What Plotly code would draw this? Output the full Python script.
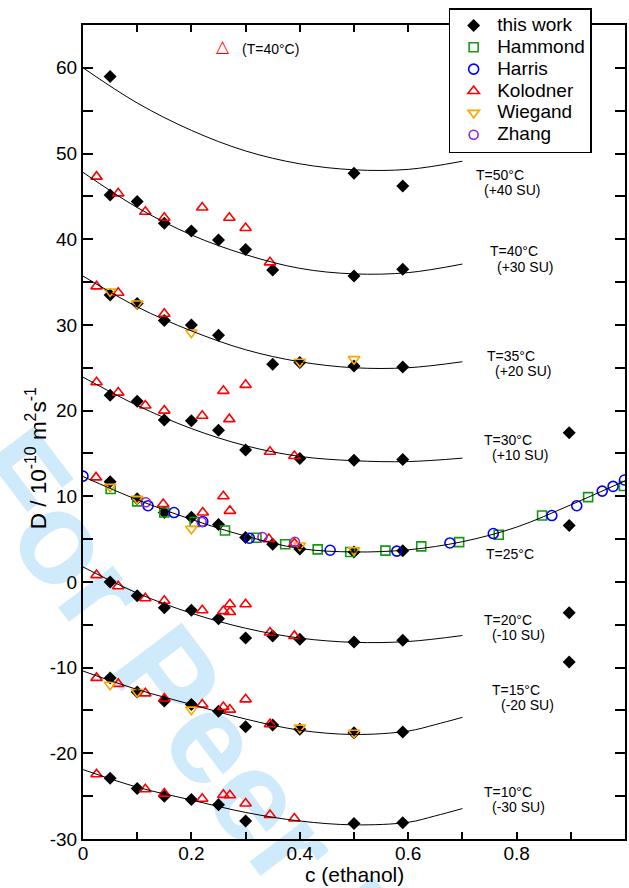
import plotly.graph_objects as go

# ---------------- data ----------------
# "this work" (black diamonds), per temperature, shifted by SU offsets as in the plot
work_50_c = [0.05, 0.50, 0.59]
work_50_D = [59.0, 47.7, 46.2]
work_40_c = [0.05, 0.10, 0.15, 0.20, 0.25, 0.30, 0.35, 0.50, 0.59]
work_40_D = [45.15, 44.4, 41.85, 40.95, 39.9, 38.8, 36.4, 35.7, 36.5]
work_35_c = [0.05, 0.10, 0.15, 0.20, 0.25, 0.35, 0.40, 0.50, 0.59]
work_35_D = [33.5, 32.5, 30.5, 30.0, 28.8, 25.4, 25.6, 25.2, 25.1]
work_30_c = [0.05, 0.10, 0.15, 0.20, 0.25, 0.30, 0.40, 0.50, 0.59]
work_30_D = [21.8, 21.1, 18.9, 18.8, 17.7, 15.4, 14.4, 14.2, 14.3]
work_25_c = [0.05, 0.10, 0.15, 0.20, 0.25, 0.30, 0.35, 0.40, 0.50, 0.59]
work_25_D = [11.7, 9.7, 8.1, 7.55, 6.7, 5.2, 4.4, 3.85, 3.5, 3.65]
work_20_c = [0.05, 0.10, 0.15, 0.20, 0.25, 0.30, 0.35, 0.40, 0.50, 0.59]
work_20_D = [0.0, -1.6, -3.0, -3.3, -4.3, -6.55, -6.3, -6.7, -7.0, -6.8]
work_15_c = [0.05, 0.10, 0.15, 0.20, 0.25, 0.30, 0.35, 0.40, 0.50, 0.59]
work_15_D = [-11.2, -12.85, -13.9, -14.3, -15.1, -16.9, -16.7, -17.2, -17.6, -17.5]
work_10_c = [0.05, 0.10, 0.15, 0.20, 0.25, 0.30, 0.50, 0.59]
work_10_D = [-22.9, -24.1, -25.0, -25.4, -26.0, -27.9, -28.2, -28.1]
work_09_c = [0.897, 0.897, 0.897, 0.897]
work_09_D = [17.4, 6.6, -3.6, -9.35]

hammond_c = [0.051, 0.10, 0.15, 0.206, 0.262, 0.32, 0.373, 0.433, 0.493, 0.558,
             0.624, 0.694, 0.767, 0.847, 0.932, 0.998]
hammond_D = [10.85, 9.4, 8.1, 7.0, 6.0, 5.15, 4.4, 3.8, 3.5, 3.65,
             4.15, 4.65, 5.5, 7.75, 9.9, 11.2]

harris_c = [0.0, 0.12, 0.168, 0.221, 0.307, 0.456, 0.579, 0.677, 0.757, 0.865,
            0.911, 0.958, 0.978, 0.999]
harris_D = [12.35, 8.9, 8.1, 7.05, 5.1, 3.7, 3.6, 4.55, 5.65, 7.75,
            8.9, 10.6, 11.15, 11.9]

kol_40_c = [0.025, 0.065, 0.115, 0.15, 0.22, 0.27, 0.30, 0.345]
kol_40_D = [47.3, 45.35, 43.2, 42.5, 43.7, 42.5, 41.3, 37.3]
kol_35_c = [0.025, 0.065, 0.15]
kol_35_D = [34.5, 33.75, 31.3]
kol_30_c = [0.025, 0.065, 0.115, 0.15, 0.22, 0.259, 0.27, 0.30, 0.345, 0.39]
kol_30_D = [23.3, 22.1, 20.6, 20.0, 19.4, 22.3, 19.0, 23.0, 15.2, 14.7]
kol_25_c = [0.024, 0.148, 0.221, 0.259, 0.271, 0.343, 0.39]
kol_25_D = [12.2, 9.1, 8.1, 10.0, 8.3, 5.0, 4.5]
kol_20_c = [0.025, 0.065, 0.115, 0.15, 0.22, 0.259, 0.271, 0.271, 0.30, 0.345, 0.39]
kol_20_D = [0.8, -0.5, -1.9, -2.2, -3.3, -3.4, -2.6, -3.5, -2.6, -5.9, -6.3]
kol_15_c = [0.025, 0.065, 0.115, 0.15, 0.22, 0.259, 0.271, 0.30, 0.345]
kol_15_D = [-11.2, -11.9, -13.0, -13.6, -14.3, -14.6, -14.9, -13.7, -16.6]
kol_10_c = [0.025, 0.115, 0.15, 0.22, 0.259, 0.271, 0.30, 0.345, 0.39]
kol_10_D = [-22.45, -24.2, -24.7, -25.3, -24.85, -24.9, -25.85, -27.2, -27.6]

wie_35_c = [0.05, 0.10, 0.20, 0.40, 0.50]
wie_35_D = [33.9, 32.5, 29.1, 25.7, 26.0]
wie_25_c = [0.05, 0.10, 0.20, 0.40, 0.50]
wie_25_D = [11.1, 9.7, 6.2, 4.25, 3.7]
wie_15_c = [0.05, 0.10, 0.20, 0.40, 0.50]
wie_15_D = [-12.0, -12.85, -14.9, -17.0, -17.6]

zhang_c = [0.116, 0.219, 0.331, 0.391]
zhang_D = [9.3, 7.0, 5.25, 4.7]

# fitted curves
fit_c = [0.0, 0.1, 0.2, 0.3, 0.4, 0.5, 0.6, 0.7]
fit_c_ext = [0.0, 0.1, 0.2, 0.3, 0.4, 0.5, 0.6, 0.65, 0.7]
fit_c_25 = [0.0, 0.1, 0.2, 0.3, 0.4, 0.5, 0.6, 0.7, 0.8, 0.9, 1.0]
fit_50 = [60.0, 55.9, 52.7, 50.3, 48.8, 48.1, 48.15, 49.1]
fit_40 = [47.8, 43.7, 40.5, 38.2, 36.6, 35.95, 36.1, 37.1]
fit_35 = [35.7, 32.1, 29.3, 27.1, 25.7, 25.0, 25.0, 25.7]
fit_30 = [23.9, 20.6, 17.9, 15.9, 14.65, 14.15, 14.05, 14.45]
fit_25 = [12.3, 9.6, 7.3, 5.35, 3.9, 3.5, 3.75, 4.7, 6.4, 9.0, 11.8]
fit_20 = [1.75, -1.3, -3.65, -5.4, -6.55, -7.05, -6.95, -6.25]
fit_15 = [-10.4, -12.55, -14.3, -16.0, -17.3, -17.8, -17.4, -16.65, -15.8]
fit_10 = [-21.9, -23.95, -25.45, -26.9, -27.9, -28.35, -28.05, -27.3, -26.45]

x_tickvals = [0, 0.2, 0.4, 0.6, 0.8]
x_ticktext = ["0", "0.2", "0.4", "0.6", "0.8"]
x_minor = [0.1, 0.3, 0.5, 0.7, 0.9]
y_tickvals = [-30, -20, -10, 0, 10, 20, 30, 40, 50, 60]
y_ticktext = ["-30", "-20", "-10", "0", "10", "20", "30", "40", "50", "60"]
y_minor = [-25, -15, -5, 5, 15, 25, 35, 45, 55]

curve_labels = [  # (text, left px, center y px)
    ("T=50°C", 475, 175), ("(+40 SU)", 483, 190),
    ("T=40°C", 489, 251), ("(+30 SU)", 497, 267),
    ("T=35°C", 486, 356), ("(+20 SU)", 495, 371),
    ("T=30°C", 483, 440), ("(+10 SU)", 491, 455.5),
    ("T=25°C", 485, 554),
    ("T=20°C", 483, 620), ("(-10 SU)", 491, 635),
    ("T=15°C", 492, 690), ("(-20 SU)", 501, 705),
    ("T=10°C", 483, 792), ("(-30 SU)", 492, 807),
]

# ---------------- layout geometry ----------------
W, H = 629, 888
L, R, T, B = 83, 2, 25, 49
PW, PH = W - L - R, H - T - B


def paper(xp, yp):
    return (xp - L) / PW, 1 - (yp - T) / PH


FONT = "Liberation Sans, Arial, Helvetica, sans-serif"
GREEN = "#129a12"
BLUE = "#0000ff"
RED = "#ff0000"
ORANGE = "#ffa500"
PURPLE = "#9b1fd6"

work_c = work_50_c + work_40_c + work_35_c + work_30_c + work_25_c + work_20_c + work_15_c + work_10_c + work_09_c
work_D = work_50_D + work_40_D + work_35_D + work_30_D + work_25_D + work_20_D + work_15_D + work_10_D + work_09_D
kol_c = kol_40_c + kol_35_c + kol_30_c + kol_25_c + kol_20_c + kol_15_c + kol_10_c
kol_D = kol_40_D + kol_35_D + kol_30_D + kol_25_D + kol_20_D + kol_15_D + kol_10_D
wie_c = wie_35_c + wie_25_c + wie_15_c
wie_D = wie_35_D + wie_25_D + wie_15_D


def lname(s):
    return '<span style="font-size:19px">' + s + '</span>'


fig = go.Figure()
fig.add_trace(go.Scatter(x=work_c, y=work_D, mode="markers", name=lname("this work"),
                         marker=dict(symbol="diamond", size=10, color="black")))
fig.add_trace(go.Scatter(x=hammond_c, y=hammond_D, mode="markers", name=lname("Hammond"),
                         marker=dict(symbol="square-open", size=9, color=GREEN, line=dict(width=1.6))))
fig.add_trace(go.Scatter(x=harris_c, y=harris_D, mode="markers", name=lname("Harris"),
                         marker=dict(symbol="circle-open", size=10, color=BLUE, line=dict(width=1.6))))
fig.add_trace(go.Scatter(x=kol_c, y=kol_D, mode="markers", name=lname("Kolodner"),
                         marker=dict(symbol="triangle-up-open", size=10, color=RED, line=dict(width=1.6))))
fig.add_trace(go.Scatter(x=wie_c, y=wie_D, mode="markers", name=lname("Wiegand"),
                         marker=dict(symbol="triangle-down-open", size=10, color=ORANGE, line=dict(width=1.6))))
fig.add_trace(go.Scatter(x=zhang_c, y=zhang_D, mode="markers", name=lname("Zhang"),
                         marker=dict(symbol="circle-open", size=9, color=PURPLE, line=dict(width=1.6))))

for cx, cy in [(fit_c, fit_50), (fit_c, fit_40), (fit_c, fit_35), (fit_c, fit_30),
               (fit_c_25, fit_25), (fit_c, fit_20), (fit_c_ext, fit_15), (fit_c_ext, fit_10)]:
    fig.add_trace(go.Scatter(x=cx, y=cy, mode="lines", showlegend=False, hoverinfo="skip",
                             line=dict(color="black", width=1, shape="spline", smoothing=1.0)))

annotations = []
for text, xl, yc in curve_labels:
    ax, ay = paper(xl, yc)
    annotations.append(dict(text=text, x=ax, y=ay, xref="paper", yref="paper", xanchor="left",
                            yanchor="middle", showarrow=False, font=dict(size=14, family=FONT, color="black")))
ax, ay = paper(224, 46)
annotations.append(dict(text="△", x=ax, y=ay, xref="paper", yref="paper", xanchor="center",
                        yanchor="middle", showarrow=False, font=dict(size=17, color=RED, family="DejaVu Sans")))
ax, ay = paper(241, 49)
annotations.append(dict(text="(T=40°C)", x=ax, y=ay, xref="paper", yref="paper", xanchor="left",
                        yanchor="middle", showarrow=False, font=dict(size=14, family=FONT, color="black")))
ax, ay = paper(356, 888)
annotations.append(dict(text="c (ethanol)", x=ax, y=ay, xref="paper", yref="paper", xanchor="center",
                        yanchor="bottom", showarrow=False, font=dict(size=21, family=FONT, color="black")))
ax, ay = paper(36, 458)
annotations.append(dict(text="D / 10<sup>-10</sup> m<sup>2</sup>s<sup>-1</sup>", x=ax, y=ay, xref="paper",
                        yref="paper", xanchor="center", yanchor="middle", textangle=-90, showarrow=False,
                        font=dict(size=22.5, family=FONT, color="black")))

wx, wy = paper(308, 843)
shapes = [dict(type="line", xref="paper", yref="paper", x0=wx - 0.001, x1=wx + 0.001, y0=wy, y1=wy,
               layer="below", line=dict(width=0, color="rgba(0,0,0,0)"),
               label=dict(text="For Peer Review", textangle=53, textposition="middle",
                          xanchor="center", yanchor="middle",
                          font=dict(size=130, color="#cfeafa", family=FONT, weight="bold")))]

axis_common = dict(showline=True, linewidth=2, linecolor="black", mirror="ticks", ticks="inside",
                   tickwidth=1.5, tickcolor="black", showgrid=False, zeroline=False,
                   tickfont=dict(size=19, family=FONT, color="black"))

lx, ly = paper(450, 8)
fig.update_layout(
    width=W, height=H, margin=dict(l=L, r=R, t=T, b=B, pad=0),
    paper_bgcolor="white", plot_bgcolor="rgba(0,0,0,0)",
    xaxis=dict(range=[0, 1.0], tickmode="array", tickvals=x_tickvals, ticktext=x_ticktext, ticklen=7,
               ticklabelstandoff=-4,
               minor=dict(tickmode="array", tickvals=x_minor, ticks="inside", ticklen=7, tickwidth=1.5,
                          tickcolor="black", showgrid=False),
               **axis_common),
    yaxis=dict(range=[-30, 65], tickmode="array", tickvals=y_tickvals, ticktext=y_ticktext, ticklen=10,
               minor=dict(tickmode="array", tickvals=y_minor, ticks="inside", ticklen=10, tickwidth=1.5,
                          tickcolor="black", showgrid=False),
               **axis_common),
    showlegend=True,
    legend=dict(x=lx, y=ly, xanchor="left", yanchor="top", itemwidth=37,
                bgcolor="white", bordercolor="black", borderwidth=1.5,
                font=dict(size=14.5, family=FONT, color="black"), tracegroupgap=0),
    annotations=annotations, shapes=shapes,
)

fig.write_html("out.html")
